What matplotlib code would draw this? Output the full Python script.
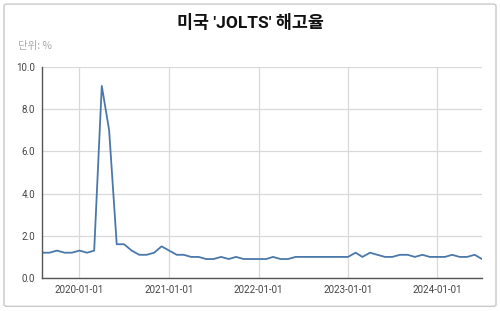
import numpy as np
import pandas as pd
import matplotlib
matplotlib.use('Agg')
import matplotlib.pyplot as plt
import matplotlib.dates as mdates
from matplotlib.patches import FancyBboxPatch

# monthly JOLTS layoff rate, 2019-08 .. 2024-07
months = pd.date_range('2019-08-01', '2024-07-01', freq='MS')
rate = [1.2, 1.2, 1.3, 1.2, 1.2,
        1.3, 1.2, 1.3, 9.1, 7.0, 1.6, 1.6, 1.3, 1.1, 1.1, 1.2, 1.5,
        1.3, 1.1, 1.1, 1.0, 1.0, 0.9, 0.9, 1.0, 0.9, 1.0, 0.9, 0.9,
        0.9, 0.9, 1.0, 0.9, 0.9, 1.0, 1.0, 1.0, 1.0, 1.0, 1.0, 1.0,
        1.0, 1.2, 1.0, 1.2, 1.1, 1.0, 1.0, 1.1, 1.1, 1.0, 1.1, 1.0,
        1.0, 1.0, 1.1, 1.0, 1.0, 1.1, 0.9]
yticks = [0, 2, 4, 6, 8, 10]
xticks = pd.to_datetime(['2020-01-01', '2021-01-01', '2022-01-01',
                         '2023-01-01', '2024-01-01'])

title = "미국 'JOLTS' 해고율"
unit = '단위: %'

fonts = ['Roboto', 'Noto Sans CJK KR', 'DejaVu Sans']
plt.rcParams['font.family'] = fonts

fig = plt.figure(figsize=(5, 3.11), dpi=100)
fig.patch.set_facecolor('white')

# chart frame
frame = FancyBboxPatch((0.008, 0.015), 0.984, 0.972,
                       boxstyle='round,pad=0,rounding_size=0.006',
                       transform=fig.transFigure, fill=False,
                       edgecolor='#c8c8c8', linewidth=1.0)
fig.patches.append(frame)

ax = fig.add_axes([0.084, 0.106, 0.88, 0.679])
ax.plot(months, rate, color='#4a78ab', linewidth=1.3)

ax.set_xlim(months[0], months[-1])
ax.set_ylim(0, 10)
ax.set_yticks(yticks)
ax.set_yticklabels([f'{v:.1f}' for v in yticks])
ax.set_xticks(xticks)
ax.xaxis.set_major_formatter(mdates.DateFormatter('%Y-%m-%d'))

ax.grid(True, color='#d9d9d9', linewidth=0.9)
ax.set_axisbelow(True)
for side in ['top', 'right']:
    ax.spines[side].set_visible(False)
ax.spines['left'].set_color('#555555')
ax.spines['bottom'].set_color('#555555')
ax.spines['left'].set_linewidth(1.0)
ax.spines['bottom'].set_linewidth(1.0)
ax.tick_params(length=0, labelsize=7, colors='#444444', pad=5)

fig.text(0.5, 0.928, title, ha='center', va='center', fontsize=12.5,
         fontweight='bold', color='#111111', family=fonts)
fig.text(0.036, 0.852, unit, ha='left', va='center', fontsize=7.5,
         color='#aaaaaa', family=['Noto Sans CJK KR', 'DejaVu Sans'])

fig.savefig('out.png', dpi=100)
